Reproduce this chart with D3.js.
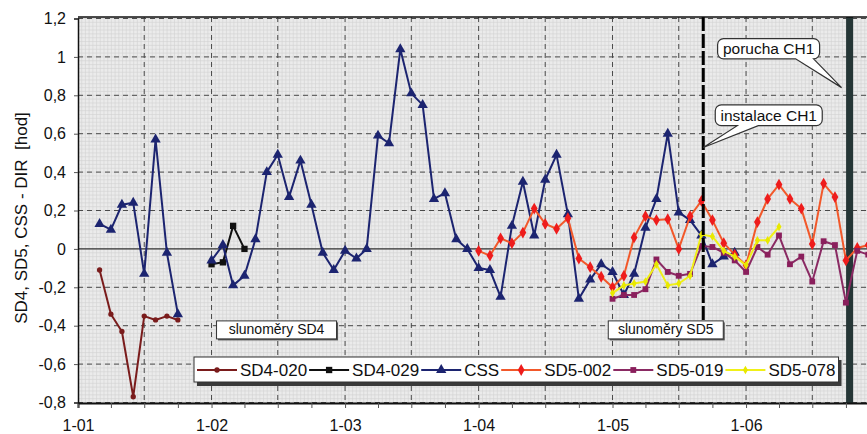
<!DOCTYPE html>
<html>
<head>
<meta charset="utf-8">
<script src="https://cdn.jsdelivr.net/npm/d3@7"></script>
<style>
body { margin: 0; background: #fff; }
text { font-family: Arial, "Liberation Sans", sans-serif; fill: #111; }
</style>
</head>
<body>
<div id="vis"></div>
<script>
// each series: month of its first value, then one value per month (null = gap)
var sd4_020Start = '2001-03';
var sd4_020Values = [-0.11, -0.34, -0.43, -0.77, -0.35, -0.37, -0.35, -0.37];

var sd4_029Start = '2002-01';
var sd4_029Values = [-0.08, -0.07, 0.12, 0.0];

var cssStart = '2001-03';
var cssValues = [0.13, 0.10, 0.23, 0.24, -0.13, 0.57, -0.02, -0.34,
    null, null,
    -0.06, 0.02, -0.19, -0.14, 0.05, 0.40, 0.49, 0.27, 0.46, 0.23, -0.02, -0.11, -0.01,
    -0.05, 0.00, 0.59, 0.55, 1.04, 0.81, 0.75, 0.26, 0.29, 0.05, 0.00, -0.10,
    -0.11, -0.25, 0.12, 0.35, 0.07, 0.36, 0.49, 0.18, -0.26, -0.16, -0.08, -0.12,
    -0.24, -0.13, 0.11, 0.26, 0.60, 0.19, 0.15, 0.07, -0.08, -0.04, -0.02];

var sd5_002Start = '2004-01';
var sd5_002Values = [-0.01, -0.035, 0.055, 0.03, 0.085, 0.21, 0.13, 0.105, 0.16, -0.05, -0.095, -0.145,
    -0.20, -0.14, 0.06, 0.17, 0.15, 0.155, 0.00, 0.17, 0.25, 0.15, 0.03, -0.03,
    -0.085, 0.14, 0.26, 0.335, 0.26, 0.21, 0.025, 0.34, 0.27, -0.06, 0.005, 0.02];

var sd5_019Start = '2005-01';
var sd5_019Values = [-0.26, -0.24, -0.24, -0.21, -0.055, -0.12, -0.14, -0.13, 0.015, 0.01, -0.02, -0.06,
    -0.12, 0.01, -0.03, 0.07, -0.08, -0.04, -0.17, 0.04, 0.02, -0.28, -0.01, -0.03];

var sd5_078Start = '2005-01';
var sd5_078Values = [-0.23, -0.19, -0.18, -0.17, -0.08, -0.19, -0.18, -0.14, 0.075, 0.065, -0.01, -0.04,
    -0.085, 0.045, 0.045, 0.115];

var seriesNames = ['SD4-020', 'SD4-029', 'CSS', 'SD5-002', 'SD5-019', 'SD5-078'];
var yTicks = [-0.8, -0.6, -0.4, -0.2, 0, 0.2, 0.4, 0.6, 0.8, 1, 1.2];

var eventNames = ['instalace CH1', 'porucha CH1'];
var eventDates = ['2005-09-06', '2006-10-11'];
var periodLabels = ['slunoměry SD4', 'slunoměry SD5'];

var width = 867;
var height = 434;
var margin = { top: 17, right: -13, bottom: 31, left: 78 };
var drawWidth = width - margin.left - margin.right;
var drawHeight = height - margin.top - margin.bottom;

var parseMonth = d3.timeParse('%Y-%m');
var parseDay = d3.timeParse('%Y-%m-%d');

var toPoints = function(start, values) {
    var s = parseMonth(start);
    return values.map(function(v, i) { return { date: d3.timeMonth.offset(s, i), value: v }; });
};

var series = [
    { name: seriesNames[0], data: toPoints(sd4_020Start, sd4_020Values), line: '#7a1c1c', fill: '#7a1c1c', symbol: d3.symbolCircle, size: 22 },
    { name: seriesNames[1], data: toPoints(sd4_029Start, sd4_029Values), line: '#111111', fill: '#111111', symbol: d3.symbolSquare, size: 40 },
    { name: seriesNames[2], data: toPoints(cssStart, cssValues), line: '#1c2470', fill: '#1c2470', symbol: d3.symbolTriangle, size: 46 },
    { name: seriesNames[3], data: toPoints(sd5_002Start, sd5_002Values), line: '#f2582a', fill: '#ee1c1c', symbol: d3.symbolDiamond, size: 40 },
    { name: seriesNames[4], data: toPoints(sd5_019Start, sd5_019Values), line: '#8a2a63', fill: '#8a1f5c', symbol: d3.symbolSquare, size: 34 },
    { name: seriesNames[5], data: toPoints(sd5_078Start, sd5_078Values), line: '#f0f018', fill: '#e8e800', symbol: d3.symbolDiamond, size: 22 }
];

var svg = d3.select('#vis')
            .append('svg')
            .attr('width', width)
            .attr('height', height);

var xScale = d3.scaleTime()
               .domain([new Date(2001, 0, 1), new Date(2007, 0, 1)])
               .range([margin.left, margin.left + 6 * 133.6]);
var yScale = d3.scaleLinear()
               .domain([-0.8, 1.2])
               .range([margin.top + drawHeight - 0.5, margin.top + 1.5]);

var plotTop = margin.top;
var plotBottom = margin.top + drawHeight;
var plotLeft = margin.left;
var plotRight = width + 20;

svg.append('clipPath').attr('id', 'clip')
   .append('rect')
   .attr('x', plotLeft).attr('y', plotTop)
   .attr('width', plotRight - plotLeft).attr('height', drawHeight);

// background + fine grid
svg.append('rect')
   .attr('x', plotLeft).attr('y', plotTop)
   .attr('width', plotRight - plotLeft).attr('height', drawHeight)
   .attr('fill', '#ebebeb');

var fine = svg.append('g').attr('clip-path', 'url(#clip)');
fine.selectAll('.fy').data(d3.range(-0.8, 1.2001, 0.02))
    .enter().append('line')
    .attr('x1', plotLeft).attr('x2', plotRight)
    .attr('y1', function(d) { return yScale(d); })
    .attr('y2', function(d) { return yScale(d); })
    .attr('stroke', '#d2d2d2').attr('stroke-width', 0.6);
fine.selectAll('.fx').data(d3.range(0, 72 * 3 + 6))
    .enter().append('line')
    .attr('x1', function(d) { return xScale(new Date(2001, 0, 1)) + d * 133.6 / 36; })
    .attr('x2', function(d) { return xScale(new Date(2001, 0, 1)) + d * 133.6 / 36; })
    .attr('y1', plotTop).attr('y2', plotBottom)
    .attr('stroke', '#d2d2d2').attr('stroke-width', 0.6);

// major dashed grid
var grid = svg.append('g').attr('clip-path', 'url(#clip)');
grid.selectAll('.gy').data(yTicks.filter(function(d) { return d !== 0; }))
    .enter().append('line')
    .attr('x1', plotLeft).attr('x2', plotRight)
    .attr('y1', function(d) { return yScale(d); })
    .attr('y2', function(d) { return yScale(d); })
    .attr('stroke', '#4a4a4a').attr('stroke-width', 1)
    .attr('stroke-dasharray', '5,4');
grid.selectAll('.gx').data(d3.timeMonth.every(6).range(new Date(2001, 6, 1), new Date(2007, 1, 1)))
    .enter().append('line')
    .attr('x1', function(d) { return xScale(d); })
    .attr('x2', function(d) { return xScale(d); })
    .attr('y1', plotTop).attr('y2', plotBottom)
    .attr('stroke', '#4a4a4a').attr('stroke-width', 1)
    .attr('stroke-dasharray', '5,4');
grid.append('line')
    .attr('x1', plotLeft).attr('x2', plotRight)
    .attr('y1', yScale(0)).attr('y2', yScale(0))
    .attr('stroke', '#333').attr('stroke-width', 1.4);

// event lines
var instX = xScale(parseDay(eventDates[0]));
var porX = xScale(parseDay(eventDates[1]));
svg.append('rect')
   .attr('x', porX - 3.5).attr('y', plotTop)
   .attr('width', 7).attr('height', drawHeight)
   .attr('fill', '#253636');

// series
var plot = svg.append('g').attr('clip-path', 'url(#clip)');
var line = d3.line()
             .defined(function(d) { return d.value !== null; })
             .x(function(d) { return xScale(d.date); })
             .y(function(d) { return yScale(d.value); });

series.forEach(function(s) {
    plot.append('path')
        .datum(s.data)
        .attr('fill', 'none')
        .attr('stroke', s.line)
        .attr('stroke-width', 2)
        .attr('stroke-linejoin', 'round')
        .attr('d', line);
    plot.selectAll(null)
        .data(s.data.filter(function(d) { return d.value !== null; }))
        .enter().append('path')
        .attr('transform', function(d) { return 'translate(' + xScale(d.date) + ',' + yScale(d.value) + ')'; })
        .attr('d', d3.symbol().type(s.symbol).size(s.size))
        .attr('fill', s.fill);
});

// instalace line (over data)
svg.append('line')
   .attr('x1', instX).attr('x2', instX)
   .attr('y1', plotTop).attr('y2', yScale(-0.375))
   .attr('stroke', '#000').attr('stroke-width', 3)
   .attr('stroke-dasharray', '14,3');

// frame
svg.append('line').attr('x1', plotLeft).attr('x2', plotRight).attr('y1', plotTop).attr('y2', plotTop)
   .attr('stroke', '#111').attr('stroke-width', 1.5);

// axes
var xAxis = d3.axisBottom(xScale)
              .ticks(d3.timeMonth.every(3))
              .tickSize(5)
              .tickPadding(12)
              .tickFormat(function(d) { return (d.getMonth() === 0 && d.getFullYear() < 2007) ? '1-' + d3.timeFormat('%y')(d) : ''; });
var gx = svg.append('g')
            .attr('transform', 'translate(0,' + plotBottom + ')')
            .call(xAxis);
gx.select('.domain').attr('stroke', '#111').attr('stroke-width', 2);
gx.selectAll('.tick line').attr('stroke', '#555');
gx.selectAll('.tick text').attr('font-size', 16).attr('font-family', 'Arial, "Liberation Sans", sans-serif').attr('fill', '#111');

var yAxis = d3.axisLeft(yScale)
              .tickValues(yTicks)
              .tickSize(4)
              .tickPadding(8)
              .tickFormat(function(d) { return String(Math.round(d * 10) / 10).replace('.', ','); });
var gy = svg.append('g')
            .attr('transform', 'translate(' + plotLeft + ',0)')
            .call(yAxis);
gy.select('.domain').attr('stroke', '#111').attr('stroke-width', 1.5);
gy.selectAll('.tick line').attr('stroke', '#555');
gy.selectAll('.tick text').attr('font-size', 16).attr('font-family', 'Arial, "Liberation Sans", sans-serif').attr('fill', '#111');

svg.append('text')
   .attr('transform', 'translate(27,' + (plotTop + drawHeight / 2 + 8) + ') rotate(-90)')
   .attr('text-anchor', 'middle')
   .attr('font-size', 17)
   .attr('xml:space', 'preserve')
   .text('SD4, SD5, CSS - DIR  [hod]');

// period labels
var periodBox = function(x0, x1, text) {
    var y0 = yScale(-0.375);
    var y1 = y0 + 18;
    svg.append('rect').attr('x', x0 + 1.5).attr('y', y0 + 1.5).attr('width', x1 - x0).attr('height', y1 - y0).attr('fill', '#555');
    svg.append('rect').attr('x', x0).attr('y', y0).attr('width', x1 - x0).attr('height', y1 - y0)
       .attr('fill', '#fff').attr('stroke', '#333').attr('stroke-width', 1);
    svg.append('text').attr('x', (x0 + x1) / 2).attr('y', y1 - 4.5)
       .attr('text-anchor', 'middle').attr('font-size', 14).text(text);
};
periodBox(xScale(new Date(2002, 0, 1)) + 5, xScale(new Date(2002, 0, 1)) + 125, periodLabels[0]);
periodBox(instX - 95, instX + 20, periodLabels[1]);

// callouts
var calloutPath = function(x0, y0, x1, y1, r, a, b, tx, ty) {
    return 'M' + (x0 + r) + ',' + y0 + 'H' + (x1 - r) +
        'A' + r + ',' + r + ' 0 0 1 ' + x1 + ',' + (y0 + r) + 'V' + (y1 - r) +
        'A' + r + ',' + r + ' 0 0 1 ' + (x1 - r) + ',' + y1 + 'H' + b +
        'L' + tx + ',' + ty + 'L' + a + ',' + y1 + 'H' + (x0 + r) +
        'A' + r + ',' + r + ' 0 0 1 ' + x0 + ',' + (y1 - r) + 'V' + (y0 + r) +
        'A' + r + ',' + r + ' 0 0 1 ' + (x0 + r) + ',' + y0 + 'Z';
};
var callout = function(x0, y0, x1, y1, a, b, tx, ty, text) {
    svg.append('path')
       .attr('d', calloutPath(x0, y0, x1, y1, 6, a, b, tx, ty))
       .attr('fill', '#fff').attr('stroke', '#333').attr('stroke-width', 1.2);
    svg.append('text').attr('x', (x0 + x1) / 2).attr('y', y1 - 5)
       .attr('text-anchor', 'middle').attr('font-size', 15.5).text(text);
};
callout(porX - 132, yScale(1.095), porX - 30, yScale(0.99), porX - 54, porX - 36, porX - 8, yScale(0.84), eventNames[1]);
callout(instX + 12, yScale(0.75), instX + 119, yScale(0.642), instX + 34, instX + 55, instX, yScale(0.528), eventNames[0]);

// legend
var lg = svg.append('g');
var lx0 = 194, ly0 = 357, lh = 25;
var shadow = lg.append('rect').attr('fill', '#3a3a3a');
var box = lg.append('rect').attr('fill', '#fff').attr('stroke', '#333').attr('stroke-width', 1);
var cx = lx0 + 3;
var ly = ly0 + lh / 2 + 0.5;
series.forEach(function(s) {
    lg.append('line').attr('x1', cx).attr('x2', cx + 40).attr('y1', ly).attr('y2', ly)
      .attr('stroke', s.line).attr('stroke-width', 2);
    lg.append('path').attr('transform', 'translate(' + (cx + 20) + ',' + ly + ')')
      .attr('d', d3.symbol().type(s.symbol).size(s.size)).attr('fill', s.fill);
    var t = lg.append('text').attr('x', cx + 43).attr('y', ly + 6).attr('font-size', 17).text(s.name);
    cx = cx + 43 + t.node().getComputedTextLength() + 2;
});
var lx1 = cx + 1;
box.attr('x', lx0).attr('y', ly0).attr('width', lx1 - lx0).attr('height', lh);
shadow.attr('x', lx0 + 3).attr('y', ly0 + 3).attr('width', lx1 - lx0).attr('height', lh + 1);
</script>
</body>
</html>
